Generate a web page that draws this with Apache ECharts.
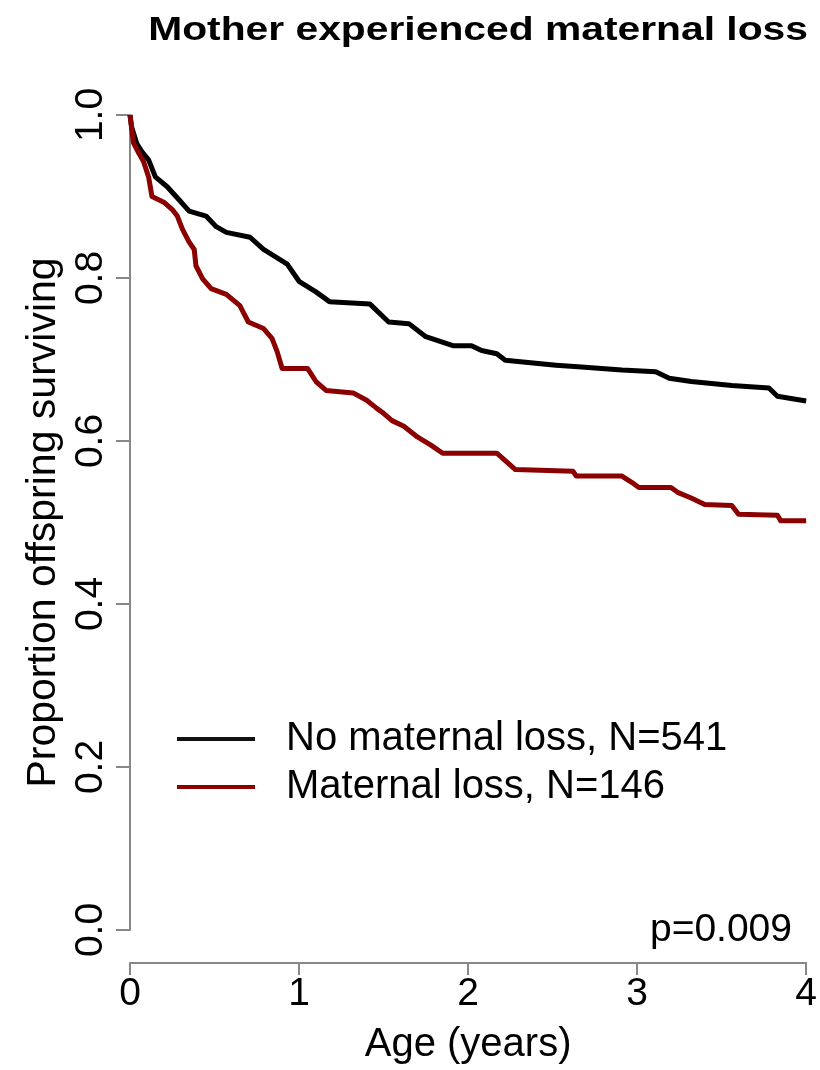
<!DOCTYPE html>
<html>
<head>
<meta charset="utf-8">
<script src="https://cdn.jsdelivr.net/npm/echarts@6/dist/echarts.min.js"></script>
<style>html,body{margin:0;padding:0;background:#fff;}#c{width:820px;height:1070px;}</style>
</head>
<body>
<div id="c"></div>
<script>
// Data (Kaplan-Meier style survival curves)
const seriesNames = ['No maternal loss, N=541', 'Maternal loss, N=146'];
const noLossAge = [0, 0.01, 0.04, 0.07, 0.11, 0.15, 0.22, 0.29, 0.35, 0.45, 0.51, 0.57, 0.71, 0.79, 0.93, 1.0, 1.10, 1.18, 1.42, 1.53, 1.65, 1.75, 1.91, 2.02, 2.08, 2.17, 2.22, 2.52, 2.65, 2.91, 3.11, 3.19, 3.32, 3.56, 3.78, 3.83, 4.0];
const noLossSurv = [1.0, 0.985, 0.965, 0.955, 0.945, 0.924, 0.912, 0.896, 0.882, 0.876, 0.863, 0.856, 0.85, 0.835, 0.817, 0.796, 0.783, 0.771, 0.768, 0.746, 0.744, 0.728, 0.717, 0.717, 0.711, 0.707, 0.699, 0.693, 0.691, 0.687, 0.685, 0.677, 0.673, 0.668, 0.665, 0.655, 0.649];
const lossAge = [0, 0.02, 0.05, 0.08, 0.11, 0.13, 0.2, 0.25, 0.28, 0.31, 0.35, 0.38, 0.39, 0.43, 0.48, 0.57, 0.65, 0.7, 0.79, 0.84, 0.87, 0.9, 1.05, 1.1, 1.16, 1.32, 1.4, 1.46, 1.5, 1.55, 1.62, 1.7, 1.78, 1.85, 2.17, 2.22, 2.28, 2.62, 2.64, 2.91, 2.97, 3.01, 3.2, 3.24, 3.32, 3.4, 3.56, 3.6, 3.83, 3.85, 4.0];
const lossSurv = [1.0, 0.966, 0.954, 0.943, 0.924, 0.9, 0.893, 0.884, 0.876, 0.86, 0.844, 0.835, 0.815, 0.799, 0.787, 0.78, 0.766, 0.746, 0.738, 0.726, 0.71, 0.689, 0.689, 0.673, 0.662, 0.659, 0.65, 0.64, 0.634, 0.625, 0.618, 0.605, 0.595, 0.585, 0.585, 0.576, 0.565, 0.563, 0.557, 0.557, 0.549, 0.543, 0.543, 0.537, 0.53, 0.522, 0.521, 0.51, 0.509, 0.502, 0.502];
const xTicks = [0, 1, 2, 3, 4];
const yTicks = ['0.0', '0.2', '0.4', '0.6', '0.8', '1.0'];
const titleText = 'Mother experienced maternal loss';
const pText = 'p=0.009';

const FONT = "'Liberation Sans', Arial, Helvetica, sans-serif";
const zip = (a, b) => a.map((v, i) => [v, b[i]]);

const chart = echarts.init(document.getElementById('c'), null, {renderer: 'canvas'});
chart.setOption({
  backgroundColor: '#fff',
  animation: false,
  grid: {left: 130, right: 12, top: 115, bottom: 135, containLabel: false},
  xAxis: {
    type: 'value', min: 0, max: 4, interval: 1, offset: 33,
    name: 'Age (years)', nameLocation: 'middle', nameGap: 62,
    nameTextStyle: {fontFamily: FONT, fontSize: 40, color: '#000'},
    axisLine: {show: true, onZero: false, lineStyle: {color: '#888', width: 2}},
    axisTick: {show: true, length: 12, lineStyle: {color: '#888', width: 2}},
    axisLabel: {fontFamily: FONT, fontSize: 39, color: '#000', margin: 12,
      formatter: v => String(xTicks[xTicks.indexOf(v)])},
    splitLine: {show: false}
  },
  yAxis: {
    type: 'value', min: 0, max: 1, interval: 0.2,
    name: 'Proportion offspring surviving', nameLocation: 'middle', nameGap: 60, nameRotate: 90,
    nameTextStyle: {fontFamily: FONT, fontSize: 41, color: '#000'},
    axisLine: {show: true, lineStyle: {color: '#888', width: 2}},
    axisTick: {show: true, length: 14, lineStyle: {color: '#888', width: 2}},
    axisLabel: {fontFamily: FONT, fontSize: 39, color: '#000', rotate: 90, margin: 19,
      formatter: v => yTicks[Math.round(v / 0.2)]},
    splitLine: {show: false}
  },
  legend: {
    orient: 'vertical', left: 172, top: 714, icon: 'rect', itemWidth: 78, itemHeight: 4,
    itemGap: 8,
    textStyle: {fontFamily: FONT, fontSize: 40, color: '#000', lineHeight: 40, padding: [0, 0, 0, 26]},
    data: seriesNames
  },
  series: [
    {name: seriesNames[0], type: 'line', showSymbol: false, clip: false,
      data: zip(noLossAge, noLossSurv), lineStyle: {color: '#000', width: 5, join: 'round'}, itemStyle: {color: '#111'}},
    {name: seriesNames[1], type: 'line', showSymbol: false, clip: false,
      data: zip(lossAge, lossSurv), lineStyle: {color: '#8b0000', width: 5, join: 'round'}, itemStyle: {color: '#8b0000'}}
  ],
  graphic: [
    {type: 'text', x: 808, y: 31, scaleX: 1.2, scaleY: 1,
      style: {x: 0, y: 0, text: titleText, textAlign: 'right', verticalAlign: 'middle',
        fontFamily: FONT, fontSize: 34, fontWeight: 'bold', fill: '#000'}},
    {type: 'text', x: 792, y: 930,
      style: {x: 0, y: 0, text: pText, textAlign: 'right', verticalAlign: 'middle',
        fontFamily: FONT, fontSize: 39, fill: '#000'}}
  ]
});
</script>
</body>
</html>
